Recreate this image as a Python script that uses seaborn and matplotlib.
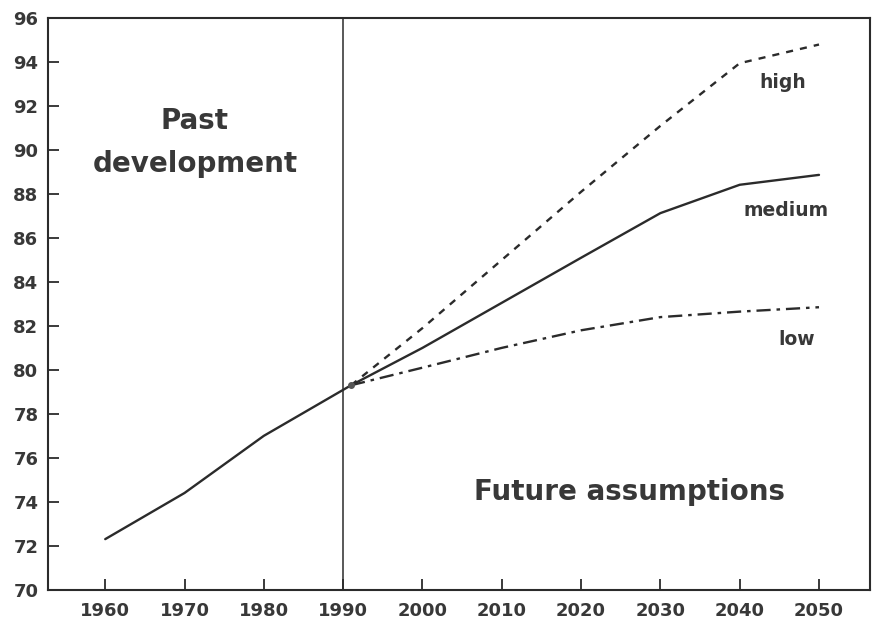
import matplotlib
matplotlib.use("Agg")
import matplotlib.pyplot as plt
import seaborn as sns
import pandas as pd

# Values
past_years = [1960, 1970, 1980, 1991]
past_values = [72.3, 74.4, 77.0, 79.3]

future_years = [1991, 2000, 2010, 2020, 2030, 2040, 2050]
high_values = [79.3, 81.9, 85.0, 88.1, 91.1, 93.95, 94.8]
medium_values = [79.3, 81.0, 83.05, 85.1, 87.13, 88.42, 88.87]
low_values = [79.3, 80.1, 81.0, 81.8, 82.4, 82.65, 82.85]

x_ticks = [1960, 1970, 1980, 1990, 2000, 2010, 2020, 2030, 2040, 2050]
y_ticks = list(range(70, 97, 2))

sns.set_style("ticks")
plt.rcParams["font.family"] = ["DejaVu Sans"]
plt.rcParams["font.weight"] = "bold"

ink = "#2b2b2b"
text_col = "#383838"

fig = plt.figure(figsize=(8.75, 6.26), dpi=100)
ax = fig.add_axes([0.055, 0.058, 0.939, 0.913])

past = pd.DataFrame({"year": past_years, "value": past_values})
future = pd.DataFrame({
    "year": future_years,
    "high": high_values,
    "medium": medium_values,
    "low": low_values,
})

sns.lineplot(data=past, x="year", y="value", ax=ax, color=ink, lw=1.7)
sns.lineplot(data=future, x="year", y="high", ax=ax, color=ink, lw=1.7,
             linestyle=(0, (3, 3)))
sns.lineplot(data=future, x="year", y="medium", ax=ax, color=ink, lw=1.7)
sns.lineplot(data=future, x="year", y="low", ax=ax, color=ink, lw=1.7,
             linestyle=(0, (6, 2.5, 1.5, 2.5)))
ax.plot(future_years[0], high_values[0], "o", color="#555555", ms=4, zorder=5)

# divider between past and future
ax.axvline(1990, color=ink, lw=1.1)

ax.set_xlim(1952.8, 2056.4)
ax.set_ylim(70, 96)
ax.set_xticks(x_ticks)
ax.set_yticks(y_ticks)
ax.set_xlabel("")
ax.set_ylabel("")

ax.tick_params(axis="both", direction="in", colors=ink, labelcolor=text_col,
               labelsize=13, width=1.3)
ax.tick_params(axis="x", length=8, pad=9)
ax.tick_params(axis="y", length=8, pad=7)
for lab in ax.get_xticklabels() + ax.get_yticklabels():
    lab.set_fontweight("bold")
for side in ["left", "right", "top", "bottom"]:
    ax.spines[side].set_visible(True)
    ax.spines[side].set_color(ink)
    ax.spines[side].set_linewidth(1.5)

ax.text(1971.2, 90.96, "Past", ha="center", va="baseline",
        fontsize=20, fontweight="bold", color=text_col)
ax.text(1971.4, 89.0, "development", ha="center", va="baseline",
        fontsize=20, fontweight="bold", color=text_col)
ax.text(2026.1, 74.45, "Future assumptions", ha="center", va="center",
        fontsize=20, fontweight="bold", color=text_col)
ax.text(2045.4, 93.06, "high", ha="center", va="center",
        fontsize=13.5, fontweight="bold", color=text_col)
ax.text(2045.8, 87.23, "medium", ha="center", va="center",
        fontsize=13.5, fontweight="bold", color=text_col)
ax.text(2047.2, 81.37, "low", ha="center", va="center",
        fontsize=13.5, fontweight="bold", color=text_col)

fig.savefig("out.png", dpi=100)
